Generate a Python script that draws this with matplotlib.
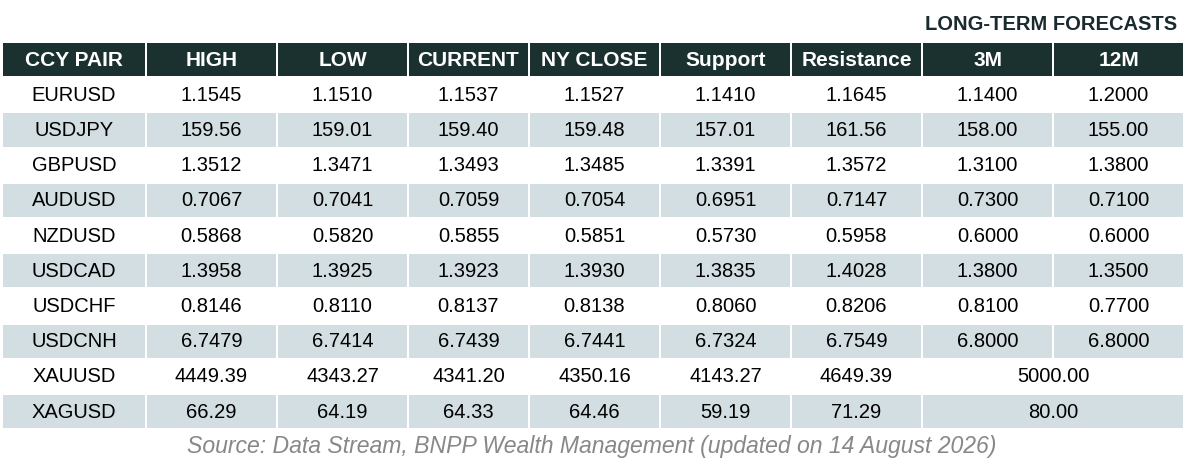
import matplotlib.pyplot as plt
from matplotlib.patches import Rectangle

plt.rcParams['font.family'] = ['Liberation Sans', 'DejaVu Sans']

columns = ["CCY PAIR", "HIGH", "LOW", "CURRENT", "NY CLOSE", "Support",
           "Resistance", "3M", "12M"]
pairs = ["EURUSD", "USDJPY", "GBPUSD", "AUDUSD", "NZDUSD", "USDCAD",
         "USDCHF", "USDCNH", "XAUUSD", "XAGUSD"]
high = ["1.1545", "159.56", "1.3512", "0.7067", "0.5868", "1.3958",
        "0.8146", "6.7479", "4449.39", "66.29"]
low = ["1.1510", "159.01", "1.3471", "0.7041", "0.5820", "1.3925",
       "0.8110", "6.7414", "4343.27", "64.19"]
current = ["1.1537", "159.40", "1.3493", "0.7059", "0.5855", "1.3923",
           "0.8137", "6.7439", "4341.20", "64.33"]
ny_close = ["1.1527", "159.48", "1.3485", "0.7054", "0.5851", "1.3930",
            "0.8138", "6.7441", "4350.16", "64.46"]
support = ["1.1410", "157.01", "1.3391", "0.6951", "0.5730", "1.3835",
           "0.8060", "6.7324", "4143.27", "59.19"]
resistance = ["1.1645", "161.56", "1.3572", "0.7147", "0.5958", "1.4028",
              "0.8206", "6.7549", "4649.39", "71.29"]
fc_3m = ["1.1400", "158.00", "1.3100", "0.7300", "0.6000", "1.3800",
         "0.8100", "6.8000", "5000.00", "80.00"]
fc_12m = ["1.2000", "155.00", "1.3800", "0.7100", "0.6000", "1.3500",
          "0.7700", "6.8000", None, None]   # None -> merged with 3M

title = "LONG-TERM FORECASTS"
source = "Source: Data Stream, BNPP Wealth Management (updated on 14 August 2026)"

# layout (pixels)
W, H = 1185, 465
col_w = [144, 131, 131, 121, 131, 131, 131, 131, 131]
x0, y0 = 3, 43
row_h = 35.2
gap = 2
HEAD = "#1b3130"
SHADE = "#d3dee3"
FS = 14.5

fig = plt.figure(figsize=(W / 100, H / 100), dpi=100)
ax = fig.add_axes([0, 0, 1, 1])
ax.set_xlim(0, W)
ax.set_ylim(H, 0)
ax.axis("off")

lefts = [x0]
for w in col_w[:-1]:
    lefts.append(lefts[-1] + w)

# header
for j, name in enumerate(columns):
    ax.add_patch(Rectangle((lefts[j], y0), col_w[j] - gap, row_h - gap,
                           color=HEAD, lw=0))
    ax.text(lefts[j] + (col_w[j] - gap) / 2, y0 + (row_h - gap) / 2 + 1, name,
            color="white", fontsize=15, fontweight="bold",
            ha="center", va="center")

data = list(zip(pairs, high, low, current, ny_close, support, resistance,
                fc_3m, fc_12m))
for i, row in enumerate(data):
    top = y0 + (i + 1) * row_h
    shaded = i % 2 == 1
    j = 0
    while j < len(row):
        merged = j == 7 and row[8] is None
        w = col_w[7] + col_w[8] - gap if merged else col_w[j] - gap
        if shaded:
            ax.add_patch(Rectangle((lefts[j], top), w, row_h - gap,
                                   color=SHADE, lw=0))
        ax.text(lefts[j] + w / 2, top + (row_h - gap) / 2 + 0.5, row[j],
                color="black", fontsize=FS, ha="center", va="center")
        j += 2 if merged else 1

ax.text(1177, 25, title, color="#1b2a2e", fontsize=FS, fontweight="bold",
        ha="right", va="center")
ax.text(592, 446, source, color="#888888", fontsize=16.6, style="italic",
        ha="center", va="center")

fig.savefig("out.png", dpi=100)
